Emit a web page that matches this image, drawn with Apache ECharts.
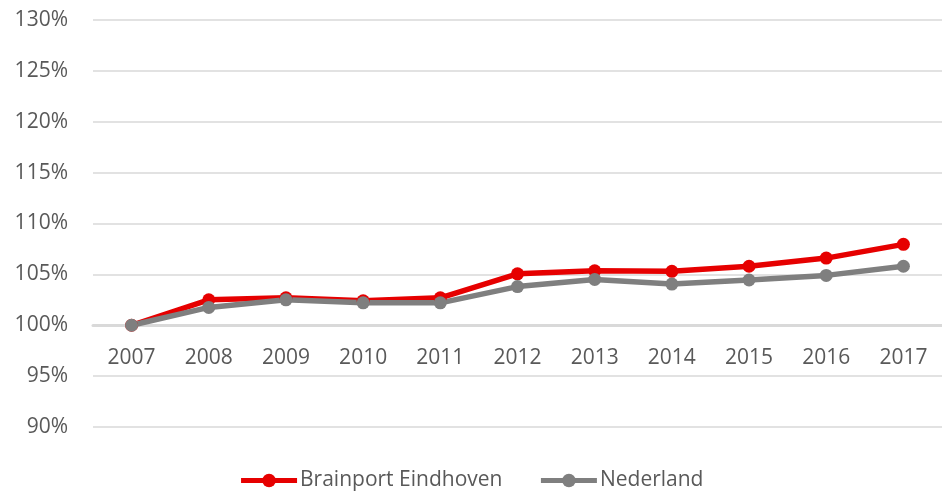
<!DOCTYPE html>
<html>
<head>
<meta charset="utf-8">
<script src="https://cdn.jsdelivr.net/npm/echarts@6/dist/echarts.min.js"></script>
<style>html,body{margin:0;padding:0;background:#fff}#c{width:942px;height:492px}</style>
</head>
<body>
<div id="c"></div>
<script>
const years = ['2007','2008','2009','2010','2011','2012','2013','2014','2015','2016','2017'];
const brainport = [100, 102.5, 102.7, 102.4, 102.7, 105.05, 105.35, 105.3, 105.8, 106.6, 107.95];
const nederland = [100, 101.75, 102.5, 102.2, 102.2, 103.8, 104.5, 104.05, 104.45, 104.9, 105.8];
const yMin = 90, yMax = 130, yStep = 5;

const font = '"Open Sans", Roboto, sans-serif';
const chart = echarts.init(document.getElementById('c'), null, {renderer: 'canvas'});
chart.setOption({
  animation: false,
  grid: {left: 93, right: -8, top: 20, bottom: 65},
  legend: {
    top: 465,
    left: 'center',
    itemWidth: 56,
    itemHeight: 17,
    itemGap: 36,
    lineStyle: {width: 5},
    textStyle: {fontFamily: font, fontSize: 21, color: '#595959', padding: [0,0,0,-2]},
    data: ['Brainport Eindhoven', 'Nederland']
  },
  xAxis: {
    type: 'category',
    data: years,
    boundaryGap: true,
    offset: -101.75,
    axisLine: {show: true, lineStyle: {color: '#d9d9d9', width: 3}},
    axisTick: {show: false},
    axisLabel: {fontFamily: font, fontSize: 21, color: '#595959', margin: 22}
  },
  yAxis: {
    type: 'value',
    min: yMin, max: yMax, interval: yStep,
    axisLine: {show: false},
    axisTick: {show: false},
    splitLine: {lineStyle: {color: '#d9d9d9', width: 1.5}},
    axisLabel: {fontFamily: font, fontSize: 21, color: '#595959', margin: 25,
      formatter: v => v + '%'}
  },
  series: [
    {
      name: 'Brainport Eindhoven', type: 'line', data: brainport,
      symbol: 'circle', symbolSize: 13,
      lineStyle: {color: '#e60000', width: 5.5},
      itemStyle: {color: '#e60000'}
    },
    {
      name: 'Nederland', type: 'line', data: nederland,
      symbol: 'circle', symbolSize: 13,
      lineStyle: {color: '#7f7f7f', width: 5.5},
      itemStyle: {color: '#7f7f7f'}
    }
  ]
});
</script>
</body>
</html>
